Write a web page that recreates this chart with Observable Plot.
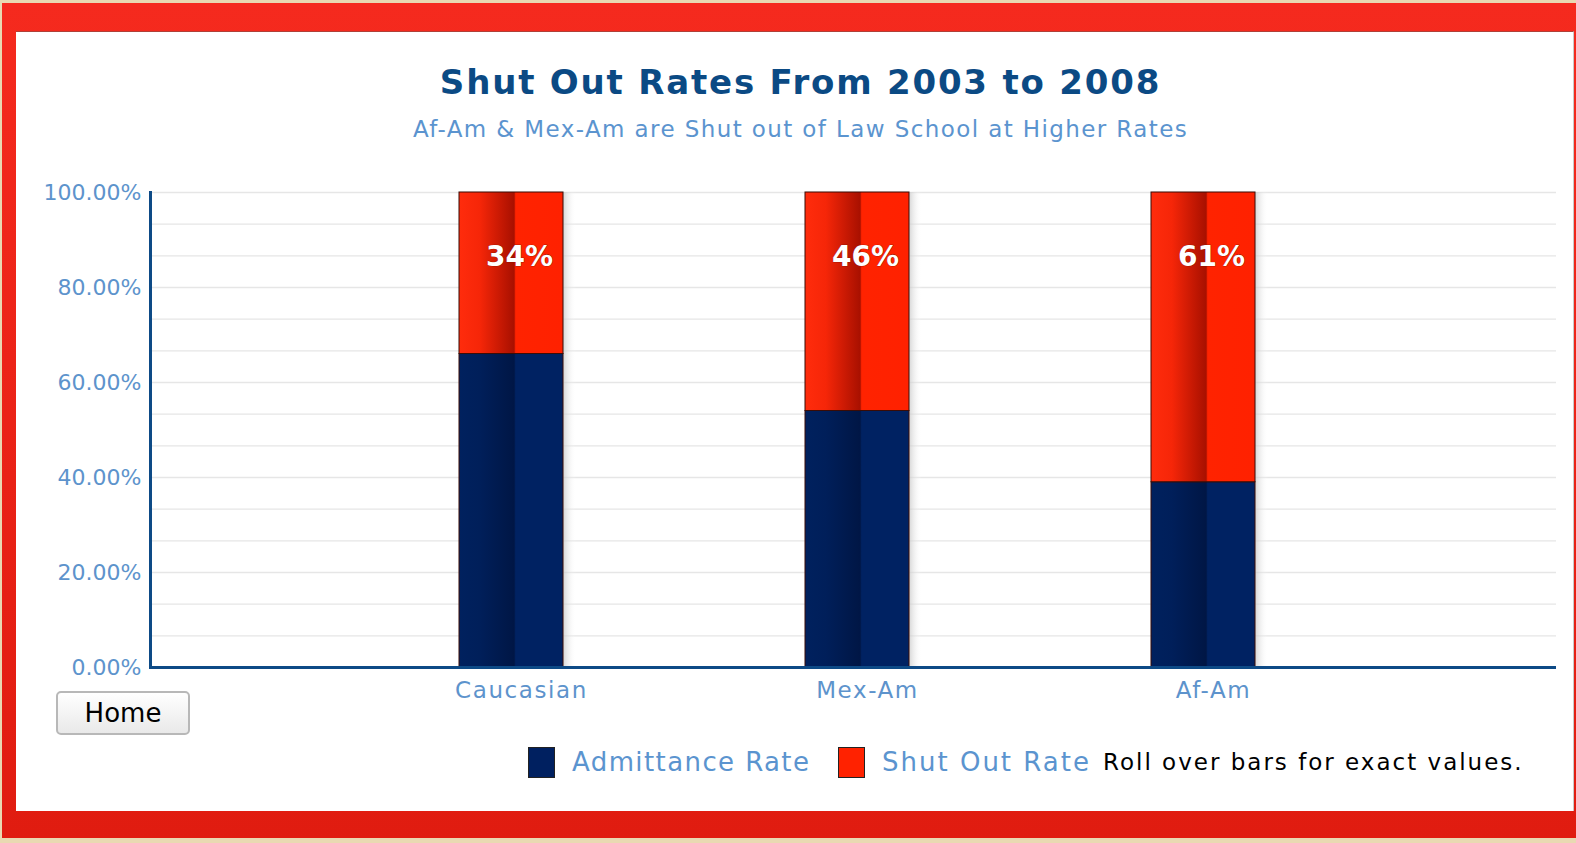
<!DOCTYPE html>
<html><head><meta charset="utf-8">
<script src="https://cdn.jsdelivr.net/npm/d3@7"></script>
<script src="https://cdn.jsdelivr.net/npm/@observablehq/plot@0.6"></script>
<style>
html,body{margin:0;padding:0;}
body{width:1576px;height:843px;background:#e9d9b2;position:relative;overflow:hidden;font-family:"DejaVu Sans",Verdana,sans-serif;}
#frame{position:absolute;left:2px;top:3px;width:1580px;height:835px;background:linear-gradient(#f52a1e,#e01c10);}
#panel{position:absolute;left:16px;top:31px;width:1557px;height:779px;background:#fff;border-top:1px solid #b04038;border-right:1px solid #c9c9c9;}
#title{position:absolute;left:22px;width:1557px;top:62px;line-height:40px;text-align:center;font-weight:bold;font-size:34px;letter-spacing:1.8px;color:#0b4a84;}
#subtitle{position:absolute;left:22px;width:1557px;top:114px;line-height:30px;text-align:center;font-size:23px;letter-spacing:1.4px;color:#5b94cf;}
#chart{position:absolute;left:16px;top:150px;}
#home{position:absolute;left:56px;top:691px;width:134px;height:44px;font-family:"DejaVu Sans",sans-serif;font-size:26px;color:#000;background:linear-gradient(#ffffff,#e9e9e9);border:2px solid #b8b8b8;border-radius:5px;padding:0;}
.sw{position:absolute;top:747px;width:27px;height:31px;box-sizing:border-box;border:1px solid #222;}
.lt{position:absolute;top:744px;line-height:36px;white-space:nowrap;}
</style></head>
<body>
<div id="frame"></div>
<div id="panel"></div>
<div id="title">Shut Out Rates From 2003 to 2008</div>
<div id="subtitle">Af-Am &amp; Mex-Am are Shut out of Law School at Higher Rates</div>
<div id="chart"></div>
<button id="home">Home</button>
<div class="sw" style="left:528px;background:#002060;"></div>
<div class="lt" style="left:572px;font-size:26px;letter-spacing:1.4px;color:#5b94cf;">Admittance Rate</div>
<div class="sw" style="left:838px;background:#ff2200;"></div>
<div class="lt" style="left:882px;font-size:26px;letter-spacing:2px;color:#5b94cf;">Shut Out Rate</div>
<div class="lt" style="left:1103px;font-size:23px;letter-spacing:2px;color:#000;">Roll over bars for exact values.</div>
<script>
const categories = ["Caucasian", "Mex-Am", "Af-Am"];
const admittance = [66, 54, 39];
const shutOut = [34, 46, 61];
const series = ["Admittance Rate", "Shut Out Rate"];
const yTicks = [0, 20, 40, 60, 80, 100];

const rows = categories.flatMap((c, i) => [
  {cat: c, series: series[0], value: admittance[i]},
  {cat: c, series: series[1], value: shutOut[i]}
]);
const labels = categories.map((c, i) => ({cat: c, v: shutOut[i], top: admittance[i] + shutOut[i]}));

const chart = Plot.plot({
  width: 1557, height: 560,
  marginLeft: 134, marginRight: 17, marginTop: 42, marginBottom: 43,
  style: {fontFamily: "DejaVu Sans, Verdana, sans-serif", background: "transparent", overflow: "visible"},
  x: {domain: categories, paddingInner: 0.7, paddingOuter: 0.88, align: 0.507, label: null},
  y: {domain: [0, 100], label: null},
  color: {domain: series, range: ["url(#gNavy)", "url(#gRed)"]},
  marks: [
    Plot.ruleY(d3.range(0, 100.01, 20 / 3), {stroke: "#e6e6e6", strokeWidth: 1.3}),
    Plot.barY(labels, {x: "cat", y1: 0, y2: "top", fill: "url(#gShadow)", dx: 13}),
    Plot.barY(rows, {x: "cat", y: "value", fill: "series", stroke: "#3a0c06", strokeWidth: 1, order: series}),
    Plot.text(labels, {x: "cat", y: "top", text: d => d.v + "%", dy: 65, dx: 8, fill: "white", fontWeight: "bold", fontSize: 28, stroke: "#7a1000", strokeWidth: 0.6}),
    Plot.frame({anchor: "left", stroke: "#0d4a86", strokeWidth: 3}),
    Plot.ruleY([0], {stroke: "#0d4a86", strokeWidth: 3}),
    Plot.axisY({ticks: yTicks, tickFormat: d => d.toFixed(2) + "%", tickSize: 0, tickPadding: 9, fontSize: 22, fill: "#5d93cc", label: null}),
    Plot.axisX({tickSize: 0, tickPadding: 14, dx: 10, fontSize: 23, fill: "#5d93cc", label: null})
  ]
});

const ns = "http://www.w3.org/2000/svg";
const defs = document.createElementNS(ns, "defs");
defs.innerHTML = `
<linearGradient id="gRed" x1="0" x2="1" y1="0" y2="0">
  <stop offset="0" stop-color="#ff2c0c"/>
  <stop offset="0.2" stop-color="#f62608"/>
  <stop offset="0.53" stop-color="#a81000"/>
  <stop offset="0.545" stop-color="#ff2300"/>
  <stop offset="1" stop-color="#ff2100"/>
</linearGradient>
<linearGradient id="gNavy" x1="0" x2="1" y1="0" y2="0">
  <stop offset="0" stop-color="#00215e"/>
  <stop offset="0.2" stop-color="#001f5a"/>
  <stop offset="0.53" stop-color="#001645"/>
  <stop offset="0.545" stop-color="#002262"/>
  <stop offset="1" stop-color="#002262"/>
</linearGradient>
<linearGradient id="gShadow" x1="0" x2="1" y1="0" y2="0">
  <stop offset="0.85" stop-color="#bdbdbd" stop-opacity="0.9"/>
  <stop offset="1" stop-color="#ffffff" stop-opacity="0"/>
</linearGradient>`;
chart.insertBefore(defs, chart.firstChild);
chart.querySelectorAll('[aria-label="x-axis tick label"]').forEach(g => g.style.letterSpacing = "1.6px");
document.getElementById("chart").appendChild(chart);
</script>
</body></html>
